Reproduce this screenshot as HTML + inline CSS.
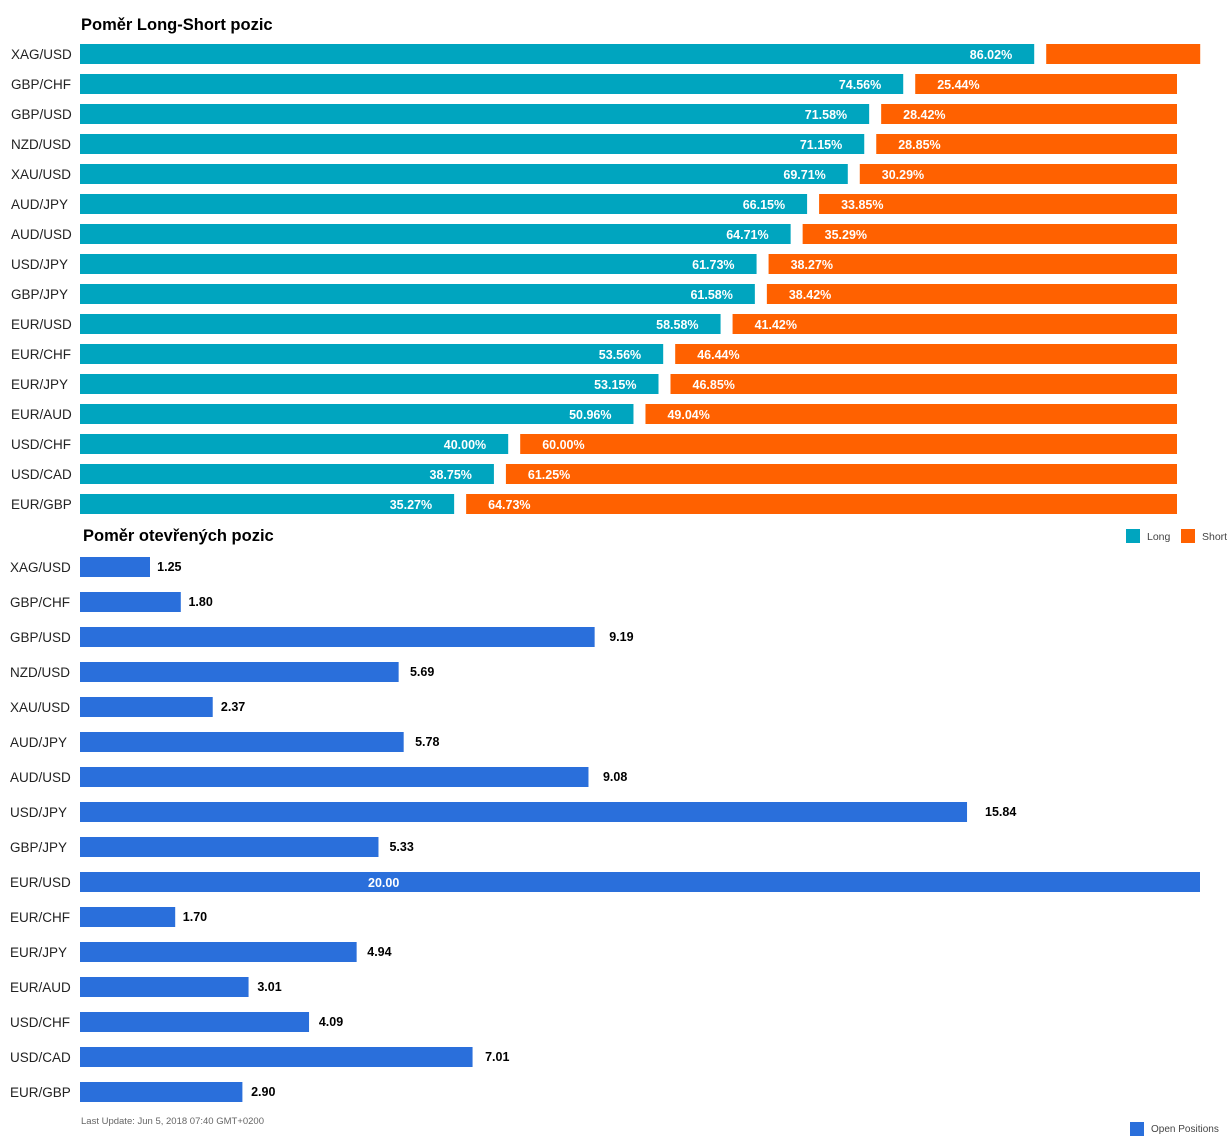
<!DOCTYPE html>
<html><head><meta charset="utf-8"><style>
body{margin:0;background:#fff;}
svg{display:block;font-family:"Liberation Sans",Arial,sans-serif;}
</style></head><body>
<svg id="c" width="1230" height="1142">
<text x="81" y="30" font-size="16.5" font-weight="bold" fill="#000">Poměr Long-Short pozic</text>
<text x="83" y="541" font-size="16.5" font-weight="bold" fill="#000">Poměr otevřených pozic</text>
<g>
<rect x="1126" y="529" width="14" height="14" fill="#00a5bf"/>
<text x="1147" y="540" font-size="10.5" fill="#444">Long</text>
<rect x="1181" y="529" width="14" height="14" fill="#ff6100"/>
<text x="1202" y="540" font-size="10.5" fill="#444">Short</text>
</g>
<g>
<rect x="1130" y="1122" width="14" height="14" fill="#2a6fdb"/>
<text x="1151" y="1132" font-size="10" fill="#444">Open Positions</text>
</g>
<text x="81" y="1124" font-size="9.5" fill="#666">Last Update: Jun 5, 2018 07:40 GMT+0200</text>
<g id="topg"></g>
<g id="botg"></g>
</svg>
<script>
const pairs=["XAG/USD","GBP/CHF","GBP/USD","NZD/USD","XAU/USD","AUD/JPY","AUD/USD","USD/JPY","GBP/JPY","EUR/USD","EUR/CHF","EUR/JPY","EUR/AUD","USD/CHF","USD/CAD","EUR/GBP"];
const longVals=[86.02,74.56,71.58,71.15,69.71,66.15,64.71,61.73,61.58,58.58,53.56,53.15,50.96,40.00,38.75,35.27];
const shortVals=[13.98,25.44,28.42,28.85,30.29,33.85,35.29,38.27,38.42,41.42,46.44,46.85,49.04,60.00,61.25,64.73];
const openVals=[1.25,1.80,9.19,5.69,2.37,5.78,9.08,15.84,5.33,20.00,1.70,4.94,3.01,4.09,7.01,2.90];
const NS="http://www.w3.org/2000/svg";
function mk(p,t,a,txt){const e=document.createElementNS(NS,t);for(const k in a)e.setAttribute(k,a[k]);if(txt!==undefined)e.textContent=txt;p.appendChild(e);return e;}
const topG=document.getElementById('topg'),botG=document.getElementById('botg');
const x0=80;
function longW(v){return 11.43*v-29;}
function yTop(i){return 44+30*i;}
pairs.forEach((p,i)=>{
  const y=yTop(i);
  const lab=mk(topG,'text',{x:11,y:y+15,'font-size':13.5,fill:'#222'},p);
  
  
  const lw=longW(longVals[i]);
  const lb=mk(topG,'rect',{x:x0,y:y,width:lw,height:20,fill:'#00a5bf'});
  
  
  const sx=x0+lw+12;
  const sw=Math.max(1177-sx,154);
  const sb=mk(topG,'rect',{x:sx,y:y,width:sw,height:20,fill:'#ff6100'});
  
  
  const lt=mk(topG,'text',{x:x0+lw-22,y:y+15,'font-size':12.5,'font-weight':'bold',fill:'#fff','text-anchor':'end'},longVals[i].toFixed(2)+'%');
  
  
  if(shortVals[i]>20){
    const st=mk(topG,'text',{x:sx+22,y:y+15,'font-size':12.5,'font-weight':'bold',fill:'#fff'},shortVals[i].toFixed(2)+'%');
    
    
  }
  const yb=557+35*i;
  const bl=mk(botG,'text',{x:10,y:yb+15,'font-size':13.5,fill:'#222'},p);
  
  
  const w=openVals[i]/20*1120;
  const ob=mk(botG,'rect',{x:x0,y:yb,width:w,height:20,fill:'#2a6fdb'});
  
  
  let ot;
  if(openVals[i]>=19){
    ot=mk(botG,'text',{x:368,y:yb+15,'font-size':12.5,'font-weight':'bold',fill:'#fff'},openVals[i].toFixed(2));
  } else {
    ot=mk(botG,'text',{x:x0+w+6+Math.min(w/60,12),y:yb+14,'font-size':12.5,'font-weight':'bold',fill:'#000'},openVals[i].toFixed(2));
  }
  
  
});
</script>
</body></html>
